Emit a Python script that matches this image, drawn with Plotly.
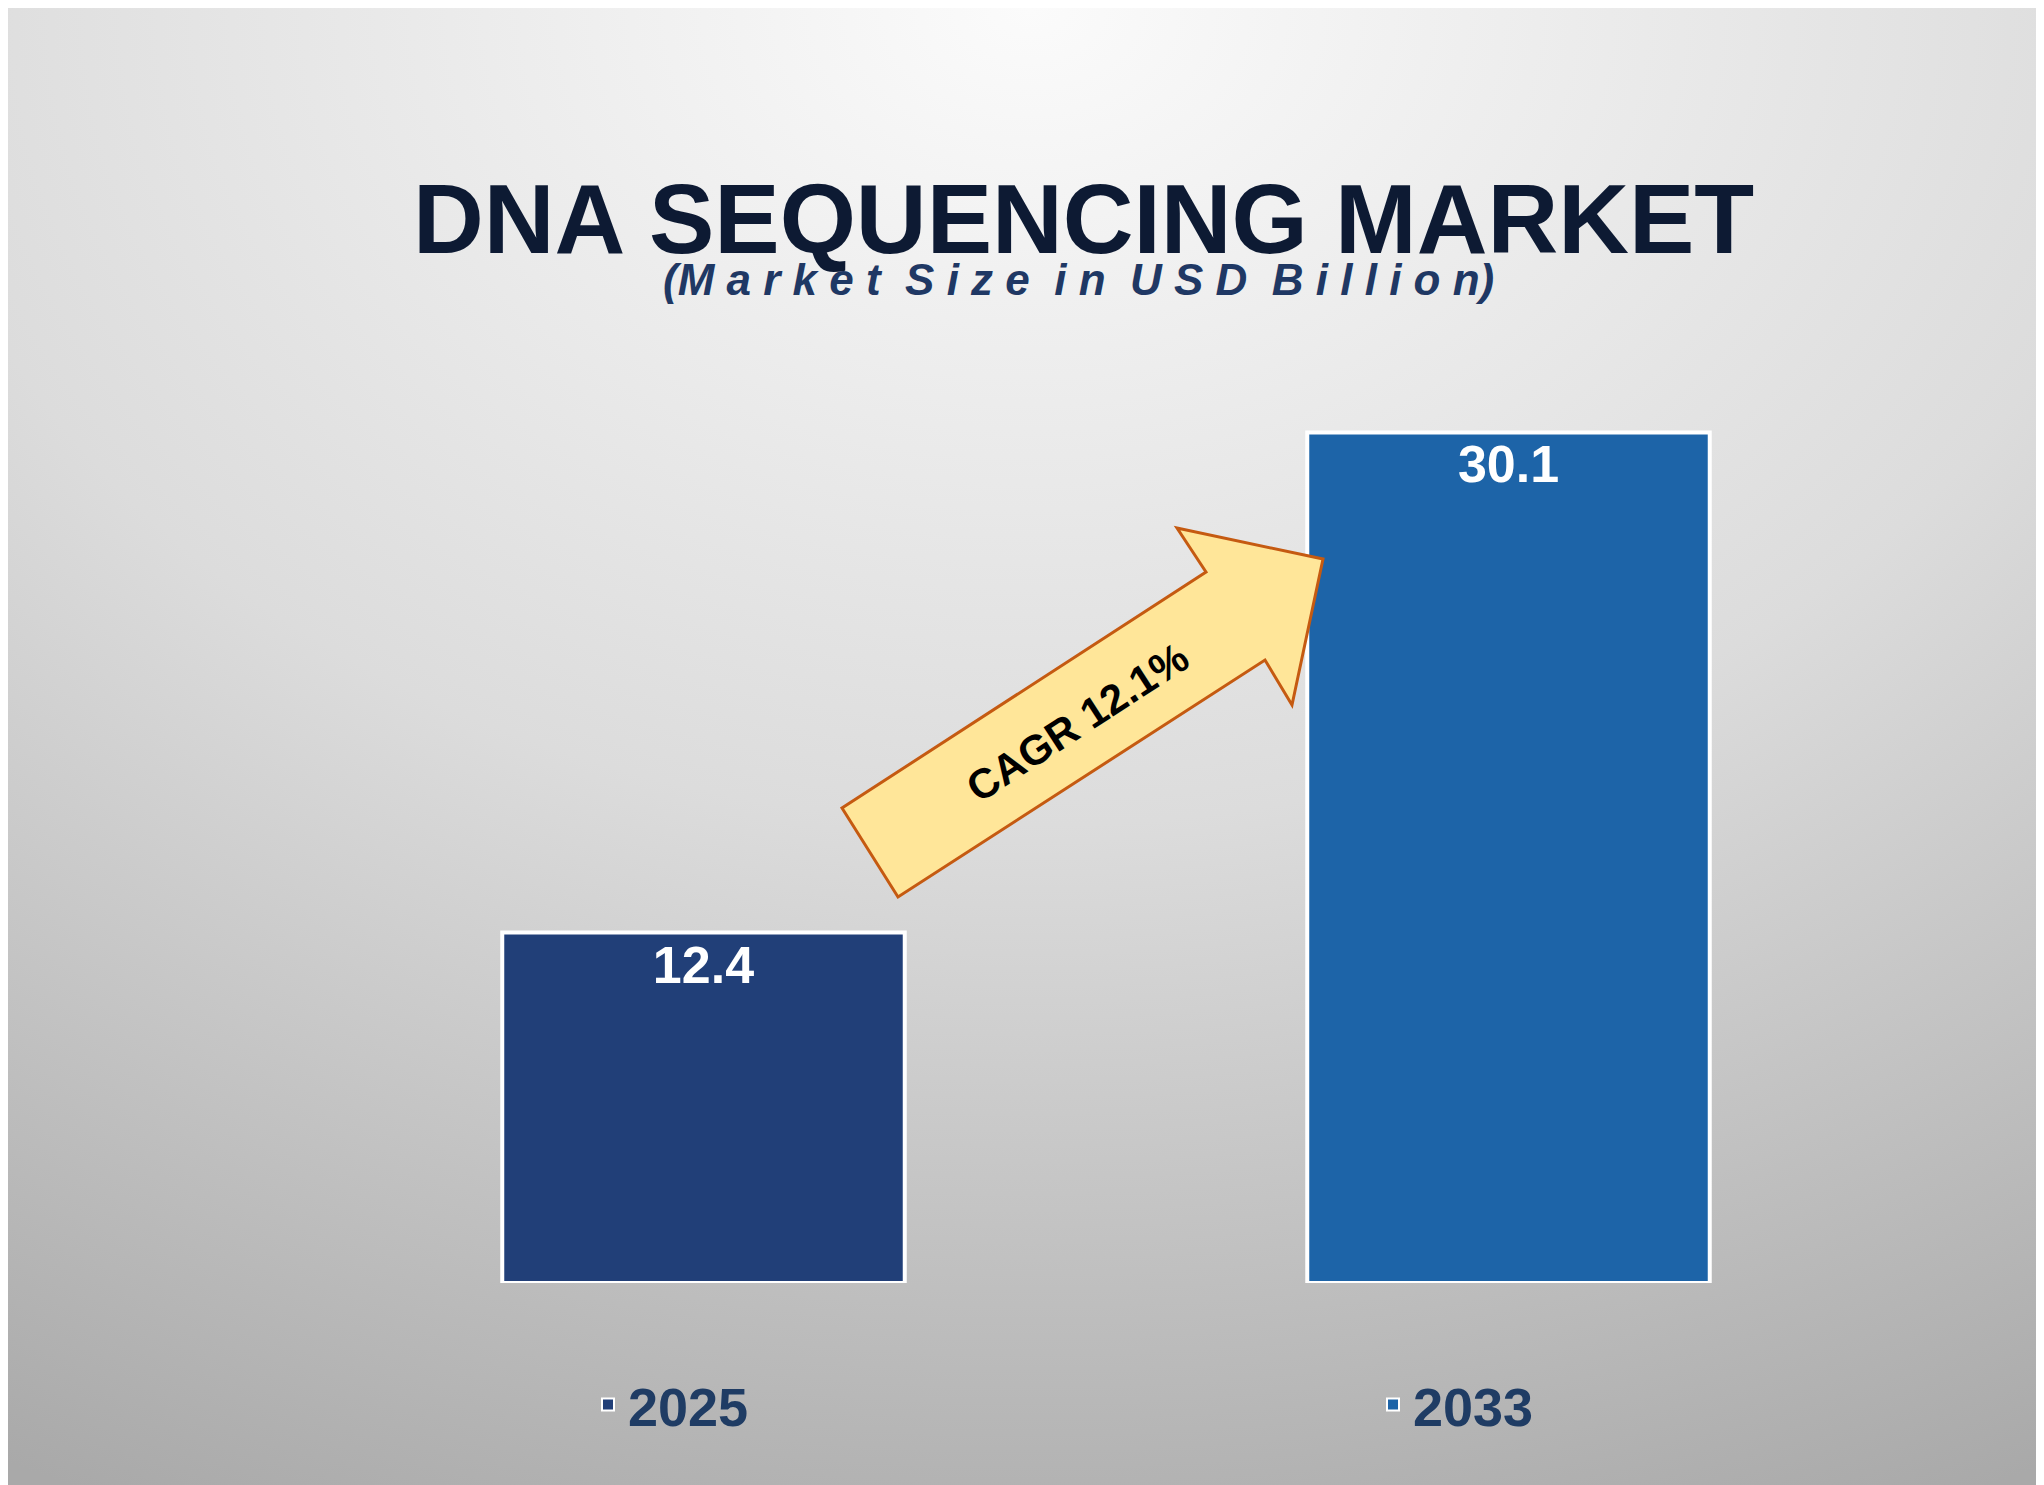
import plotly.graph_objects as go

years = ["2025", "2033"]
values = [12.4, 30.1]
labels = ["12.4", "30.1"]
bar_colors = ["#213f78", "#1d64a8"]
cagr_text = "CAGR 12.1%"

W, H = 2044, 1485
L, R, T, B = 293, 141, 286, 210
YMAX = 35
plot_w = W - L - R
plot_h = H - T - B


def to_data(px, py):
    # pixel position -> category/value coordinates
    return -0.5 + (px - L) / plot_w * 2, (H - B - py) / plot_h * YMAX


def to_paper(px, py):
    return (px - L) / plot_w, (H - B - py) / plot_h


fig = go.Figure()
for yr, v, lab, c in zip(years, values, labels, bar_colors):
    fig.add_trace(go.Bar(
        x=[yr], y=[v], name=f"<b>{yr}</b>", text=[lab], width=0.5,
        marker=dict(color=c, line=dict(color="white", width=4)),
        textposition="inside", insidetextanchor="end",
        textfont=dict(family="Liberation Sans, Arial", size=52, color="white"),
        texttemplate="<b>%{text}</b>",
    ))

# arrow polygon (pixel outline)
pts = [(834, 800), (890, 889), (1257, 652), (1284, 697), (1315, 551),
       (1169, 520), (1198, 564)]
path = ""
for i, (px, py) in enumerate(pts):
    x, y = to_data(px, py)
    path += ("M" if i == 0 else "L") + f"{x},{y} "
path += "Z"
fig.add_shape(type="path", path=path, xref="x", yref="y",
              fillcolor="#ffe699", line=dict(color="#c55a11", width=3))
ax, ay = to_data(1069, 714)
fig.add_annotation(x=ax, y=ay, xref="x", yref="y", text=f"<b>{cagr_text}</b>",
                   showarrow=False, textangle=-33,
                   font=dict(family="Liberation Sans, Arial", size=42, color="black"))

bg = ("data:image/svg+xml;utf8,<svg xmlns='http://www.w3.org/2000/svg' width='2044' height='1485'>"
      "<defs><radialGradient id='g' cx='0.5' cy='0.0' r='1.1'>"
      "<stop offset='0' stop-color='%23fbfbfb'/><stop offset='0.5' stop-color='%23dcdcdc'/>"
      "<stop offset='1' stop-color='%23a9a9a9'/></radialGradient></defs>"
      "<rect width='2044' height='1485' fill='url(%23g)'/></svg>")
fig.add_layout_image(source=bg, xref="paper", yref="paper",
                     x=-L / plot_w, y=1 + T / plot_h, sizex=W / plot_w, sizey=H / plot_h,
                     xanchor="left", yanchor="top", sizing="stretch", layer="below")

tx, ty = to_paper(1075, 154)
fig.add_annotation(x=tx, y=ty, xref="paper", yref="paper",
                   text="<b>DNA SEQUENCING MARKET</b>", showarrow=False,
                   font=dict(family="Liberation Sans, Arial", size=98, color="#0d1a33"))
sx, sy = to_paper(1070, 245)
fig.add_annotation(x=sx, y=sy, xref="paper", yref="paper",
                   text="<b><i>(M a r k e t  S i z e  i n  U S D  B i l l i o n)</i></b>",
                   showarrow=False,
                   font=dict(family="Liberation Sans, Arial", size=44, color="#1f3864"))

lx, ly = to_paper(580, 1397)
fig.update_layout(
    width=W, height=H,
    margin=dict(l=L, r=R, t=T, b=B, autoexpand=False),
    paper_bgcolor="#d0d0d0", plot_bgcolor="rgba(0,0,0,0)",
    barmode="overlay",
    xaxis=dict(range=[-0.5, 1.5], visible=False, type="category"),
    yaxis=dict(range=[0, YMAX], visible=False),
    legend=dict(orientation="h", x=lx, y=ly, yanchor="middle", xanchor="left",
                entrywidth=740, entrywidthmode="pixels", bgcolor="rgba(0,0,0,0)",
                font=dict(family="Liberation Sans, Arial", size=54, color="#1f3c64"),
                itemsizing="constant"),
    showlegend=True,
)
fig.write_html("out.html")
